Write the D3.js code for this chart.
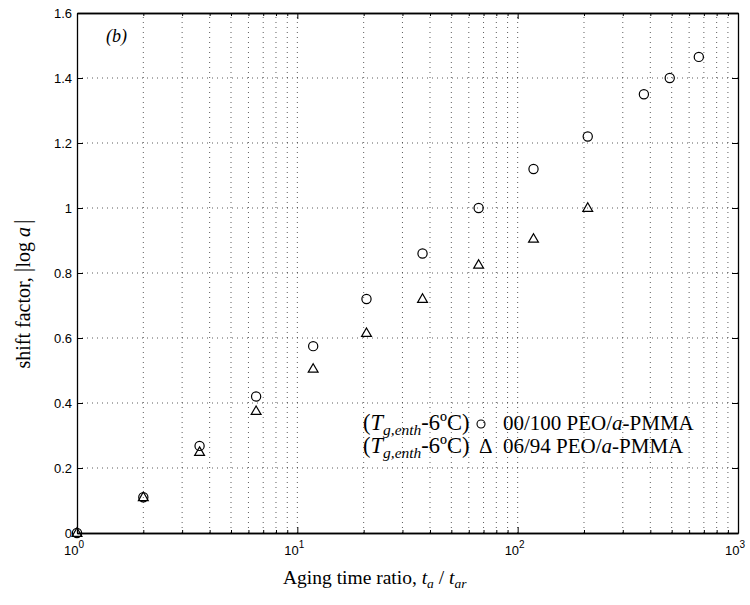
<!DOCTYPE html>
<html>
<head>
<meta charset="utf-8">
<script src="https://cdn.jsdelivr.net/npm/d3@7"></script>
<style>
  body { margin: 0; background: #fff; }
  svg { display: block; }
</style>
</head>
<body>
<svg id="chart" width="750" height="605"></svg>
<script>
// aging time ratio and shift factor
const ratioPure = [1, 2, 3.6, 6.5, 11.8, 20.6, 37, 66.5, 118, 208, 374, 490, 664]
const shiftPure = [0, 0.11, 0.268, 0.42, 0.575, 0.72, 0.86, 1.0, 1.12, 1.22, 1.35, 1.40, 1.465]
const ratioBlend = [1, 2, 3.6, 6.5, 11.8, 20.6, 37, 66.5, 118, 208]
const shiftBlend = [0, 0.11, 0.249, 0.375, 0.505, 0.615, 0.72, 0.825, 0.905, 1.0]
const yTicks = [0, 0.2, 0.4, 0.6, 0.8, 1, 1.2, 1.4, 1.6]
const xDecades = [1, 10, 100, 1000]

const margin = {top: 13, right: 12, bottom: 72, left: 77}
const width = 750, height = 605

const svg = d3.select("#chart")

let xScale = d3.scaleLog()
    .domain([1, 1000])
    .range([margin.left, width - margin.right])

let yScale = d3.scaleLinear()
    .domain([0, 1.6])
    .range([height - margin.bottom, margin.top])

const x0 = xScale.range()[0], x1 = xScale.range()[1]
const y0 = yScale.range()[0], y1 = yScale.range()[1]

// minor ticks for log axis: 2..9 in each decade
let minorX = []
xDecades.slice(0, -1).forEach(d => {
    for (let k = 2; k <= 9; k++) minorX.push(d * k)
})
let gridX = minorX.concat([10, 100])

// grid
let grid = svg.append("g")
grid.selectAll("line.gx")
    .data(gridX)
    .join("line")
    .attr("x1", d => xScale(d)).attr("x2", d => xScale(d))
    .attr("y1", y0).attr("y2", y1)
    .attr("stroke", "#333")
    .attr("stroke-width", 0.8)
    .attr("stroke-dasharray", "1,4")

grid.selectAll("line.gy")
    .data(yTicks.slice(1, -1))
    .join("line")
    .attr("x1", x0).attr("x2", x1)
    .attr("y1", d => yScale(d)).attr("y2", d => yScale(d))
    .attr("stroke", "#333")
    .attr("stroke-width", 0.8)
    .attr("stroke-dasharray", "1,4")

// axes: MATLAB style ticks pointing inward on all four sides
svg.append("g")
    .attr("transform", `translate(0,${y0})`)
    .call(d3.axisBottom(xScale).tickValues(xDecades).tickSizeInner(-6).tickSizeOuter(0).tickFormat(""))
svg.append("g")
    .attr("transform", `translate(0,${y1})`)
    .call(d3.axisTop(xScale).tickValues(xDecades).tickSizeInner(-6).tickSizeOuter(0).tickFormat(""))
svg.append("g")
    .attr("transform", `translate(0,${y0})`)
    .call(d3.axisBottom(xScale).tickValues(minorX).tickSizeInner(-3).tickSizeOuter(0).tickFormat(""))
svg.append("g")
    .attr("transform", `translate(0,${y1})`)
    .call(d3.axisTop(xScale).tickValues(minorX).tickSizeInner(-3).tickSizeOuter(0).tickFormat(""))
svg.append("g")
    .attr("transform", `translate(${x0},0)`)
    .call(d3.axisLeft(yScale).tickValues(yTicks).tickSizeInner(-6).tickSizeOuter(0).tickFormat(""))
svg.append("g")
    .attr("transform", `translate(${x1},0)`)
    .call(d3.axisRight(yScale).tickValues(yTicks).tickSizeInner(-6).tickSizeOuter(0).tickFormat(""))

svg.selectAll(".domain").attr("stroke", "#000").attr("stroke-width", 1.3)
svg.selectAll(".tick line").attr("stroke", "#000").attr("stroke-width", 1)

// tick labels
svg.append("g").selectAll("text")
    .data(yTicks)
    .join("text")
    .attr("x", x0 - 5)
    .attr("y", d => yScale(d) + 4.5)
    .attr("text-anchor", "end")
    .style("font", "13px 'Liberation Sans', Arial, sans-serif")
    .text(d => d === 0 ? "0" : d === 1 ? "1" : d.toFixed(1))

let xl = svg.append("g").selectAll("text")
    .data(xDecades)
    .join("text")
    .attr("x", d => xScale(d) - 3)
    .attr("y", y0 + 22)
    .attr("text-anchor", "middle")
    .style("font", "13px 'Liberation Sans', Arial, sans-serif")
xl.append("tspan").text("10")
xl.append("tspan")
    .attr("dy", -7)
    .attr("font-size", "10px")
    .text(d => Math.round(Math.log10(d)))

// data markers
let pure = ratioPure.map((r, i) => ({r: r, s: shiftPure[i]}))
let blend = ratioBlend.map((r, i) => ({r: r, s: shiftBlend[i]}))

svg.append("g").selectAll("circle")
    .data(pure)
    .join("circle")
    .attr("cx", d => xScale(d.r))
    .attr("cy", d => yScale(d.s))
    .attr("r", 4.6)
    .attr("fill", "none")
    .attr("stroke", "#000")
    .attr("stroke-width", 1.2)

let tri = d3.symbol().type(d3.symbolTriangle).size(42)
svg.append("g").selectAll("path")
    .data(blend)
    .join("path")
    .attr("d", tri)
    .attr("transform", d => `translate(${xScale(d.r)},${yScale(d.s) + 0.5})`)
    .attr("fill", "none")
    .attr("stroke", "#000")
    .attr("stroke-width", 1.2)

// panel label
svg.append("text")
    .attr("x", 106)
    .attr("y", 42)
    .style("font", "italic 18px 'Liberation Serif', 'Times New Roman', serif")
    .text("(b)")

// legend
const serif = "'Liberation Serif', 'Times New Roman', serif"
function legendLine(y, label) {
    let t = svg.append("text")
        .attr("x", 363)
        .attr("y", y)
        .style("font-family", serif)
        .style("font-size", "22.5px")
    t.append("tspan").text("(")
    t.append("tspan").attr("font-style", "italic").text("T")
    t.append("tspan").attr("font-style", "italic").attr("font-size", "15.5px").attr("dy", 5).text("g,enth")
    t.append("tspan").attr("dy", -5).text("-6ºC)")
    let l = svg.append("text")
        .attr("x", 503)
        .attr("y", y)
        .style("font-family", serif)
        .style("font-size", "21px")
    l.append("tspan").text(label)
    l.append("tspan").attr("font-style", "italic").text("a")
    l.append("tspan").text("-PMMA")
}
legendLine(430, "00/100 PEO/")
legendLine(453, "06/94 PEO/")
svg.append("circle")
    .attr("cx", 481).attr("cy", 424).attr("r", 4)
    .attr("fill", "none").attr("stroke", "#000").attr("stroke-width", 1.1)
svg.append("text")
    .attr("x", 479)
    .attr("y", 453)
    .style("font-family", serif)
    .style("font-size", "21px")
    .text("Δ")

// axis titles
let xt = svg.append("text")
    .attr("x", 283)
    .attr("y", 584)
    .style("font-family", serif)
    .style("font-size", "19.5px")
xt.append("tspan").text("Aging time ratio, ")
xt.append("tspan").attr("font-style", "italic").text("t")
xt.append("tspan").attr("font-style", "italic").attr("font-size", "13.5px").attr("dy", 4).text("a")
xt.append("tspan").attr("dy", -4).text(" / ")
xt.append("tspan").attr("font-style", "italic").text("t")
xt.append("tspan").attr("font-style", "italic").attr("font-size", "13.5px").attr("dy", 4).text("ar")

let yt = svg.append("text")
    .attr("transform", "translate(30,294) rotate(-90)")
    .attr("text-anchor", "middle")
    .style("font-family", serif)
    .style("font-size", "20px")
yt.append("tspan").text("shift factor, ")
yt.append("tspan").attr("font-size", "23px").text("|")
yt.append("tspan").text("log ")
yt.append("tspan").attr("font-style", "italic").text("a")
yt.append("tspan").attr("dx", 3).attr("font-size", "23px").text("|")
</script>
</body>
</html>
